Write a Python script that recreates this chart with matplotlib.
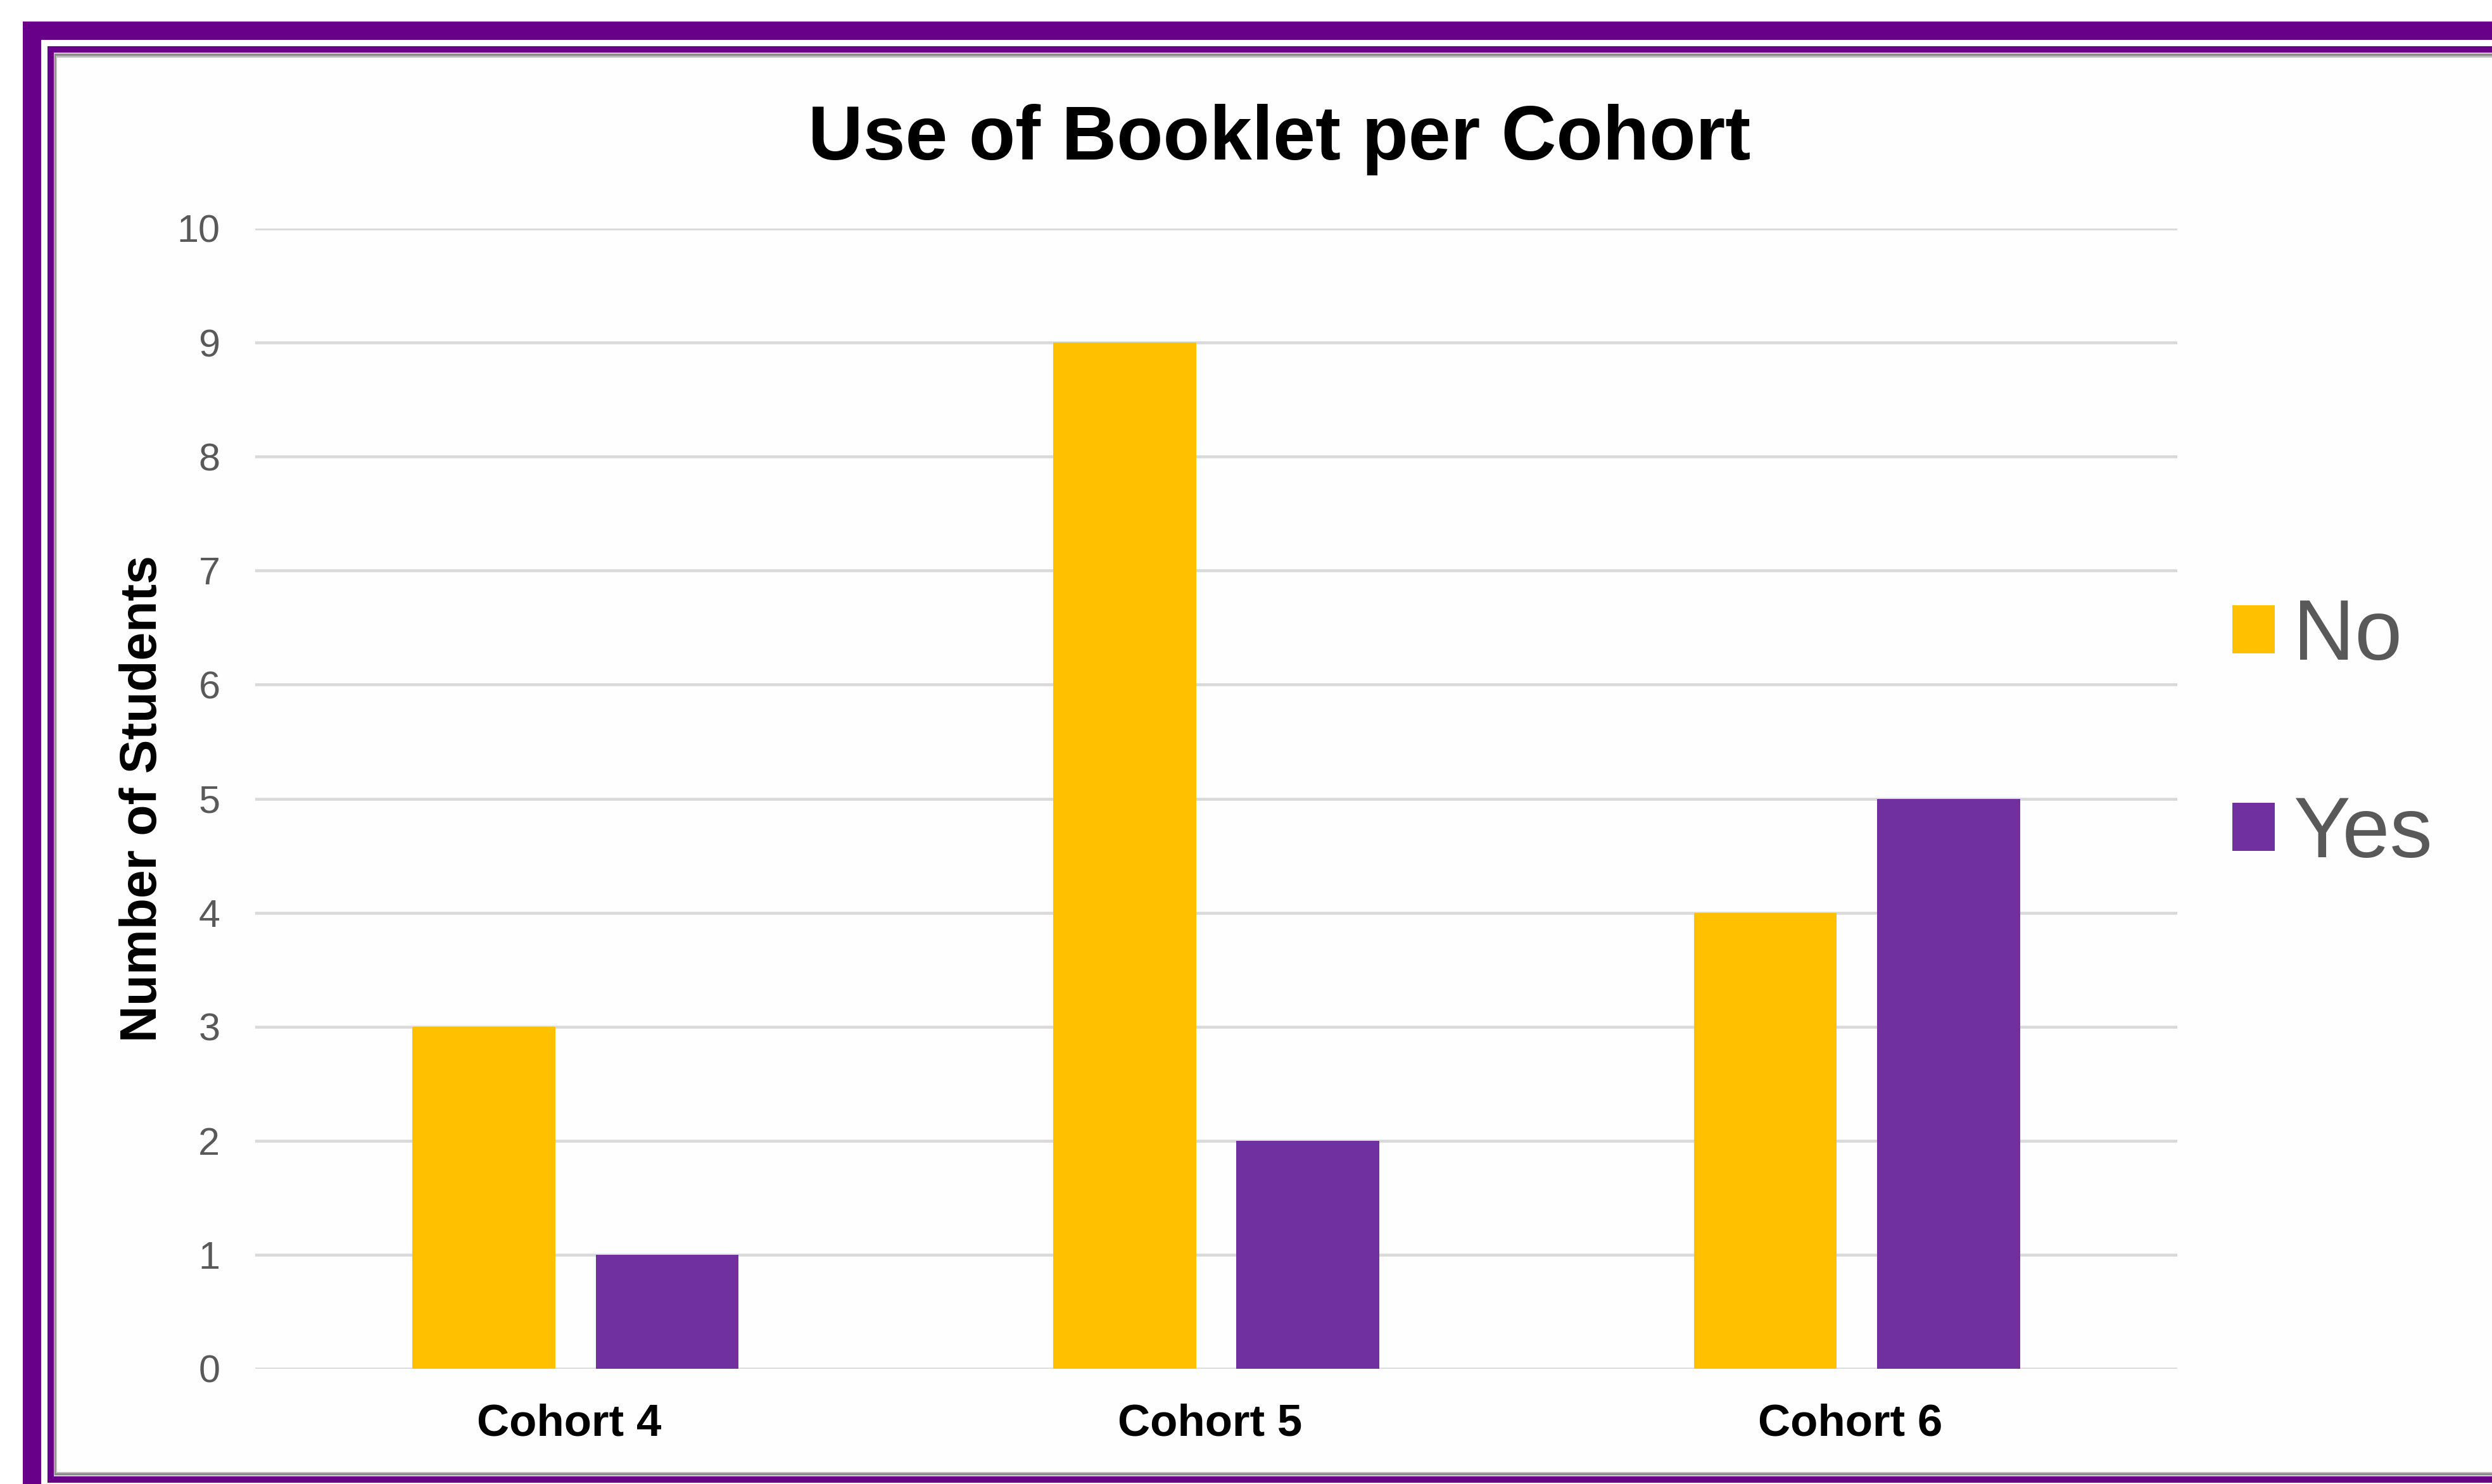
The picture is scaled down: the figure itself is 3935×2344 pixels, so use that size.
import matplotlib
matplotlib.use("Agg")
import matplotlib.pyplot as plt
import matplotlib.transforms as mtransforms
from matplotlib.patches import Rectangle

plt.rcParams['font.family'] = ['Liberation Sans', 'DejaVu Sans']

# Datos del grafico
cohorts = ["Cohort 4", "Cohort 5", "Cohort 6"]
no_values = [3, 9, 4]
yes_values = [1, 2, 5]
series_labels = ["No", "Yes"]
y_ticks = list(range(0, 11))

YELLOW = "#FFC000"
PURPLE = "#7030A0"
FRAME_PURPLE = "#690089"
GREY_TEXT = "#595959"
GRID = "#D9D9D9"

W, H = 3935, 2344
DPI = 100


def draw_frame(fig):
    """Marco morado doble con sombra gris, en coordenadas de pixel."""
    bg = fig.add_axes([0, 0, 1, 1], zorder=-10)
    bg.set_xlim(0, W)
    bg.set_ylim(H, 0)
    bg.axis("off")
    rects = [
        (36, 34, W, H, FRAME_PURPLE),
        (65, 63, W, H, "white"),
        (75, 73, W, 2342 - 73, FRAME_PURPLE),
        (85, 83, W, 2332 - 83, "#d0d0d0"),
        (86, 85, W, 2330 - 85, "#8a8a8a"),
        (88, 88, W, 2327 - 88, "#bdbdbd"),
        (90, 91, W, 2325 - 91, "#fefefe"),
    ]
    for x, y, w, h, c in rects:
        bg.add_patch(Rectangle((x, y), w, h, facecolor=c, edgecolor="none"))


def main():
    fig = plt.figure(figsize=(W / DPI, H / DPI), dpi=DPI)
    draw_frame(fig)

    left, right, top, bottom = 403, 3438, 361, 2162
    ax = fig.add_axes([left / W, (H - bottom) / H, (right - left) / W, (bottom - top) / H])
    ax.set_facecolor("none")

    x = list(range(len(cohorts)))
    bar_w = 0.223
    off = 0.143
    ax.bar([i - off for i in x], no_values, width=bar_w, color=YELLOW, label=series_labels[0], zorder=3)
    ax.bar([i + off for i in x], yes_values, width=bar_w, color=PURPLE, label=series_labels[1], zorder=3)

    ax.set_xlim(-0.5, len(cohorts) - 0.5)
    ax.set_ylim(0, 10)
    ax.set_yticks(y_ticks)
    ax.set_xticks(x)
    ax.set_xticklabels(cohorts, fontsize=51, fontweight="bold", color="black")
    ax.tick_params(axis="y", length=0, pad=40, labelsize=44, labelcolor=GREY_TEXT)
    ax.tick_params(axis="x", length=0, pad=39)
    # las etiquetas de categoria van un poco a la izquierda del centro
    shift = mtransforms.ScaledTranslation(-10 / DPI, 0, fig.dpi_scale_trans)
    for lbl in ax.get_xticklabels():
        lbl.set_transform(lbl.get_transform() + shift)
    ax.grid(axis="y", color=GRID, linewidth=3.3, zorder=0)
    for s in ax.spines.values():
        s.set_visible(False)

    ax.set_ylabel("Number of Students", fontsize=58, fontweight="bold", color="black")
    ax.yaxis.set_label_coords((264 - left) / (right - left), 0.5)

    ax.set_title("Use of Booklet per Cohort", fontsize=86.5, fontweight="bold",
                 x=(2020 - left) / (right - left), y=(bottom - 252) / (bottom - top),
                 va="baseline", pad=0)

    ax.legend(loc="center left", bbox_to_anchor=(3525 / W, 1 - 1163 / H),
              bbox_transform=fig.transFigure, frameon=False, fontsize=97,
              labelcolor=GREY_TEXT, handlelength=0.496, handleheight=0.496,
              handletextpad=0.22, labelspacing=1.38, borderpad=0, borderaxespad=0)

    fig.savefig("out.png", dpi=DPI)
    plt.close(fig)


if __name__ == "__main__":
    main()
